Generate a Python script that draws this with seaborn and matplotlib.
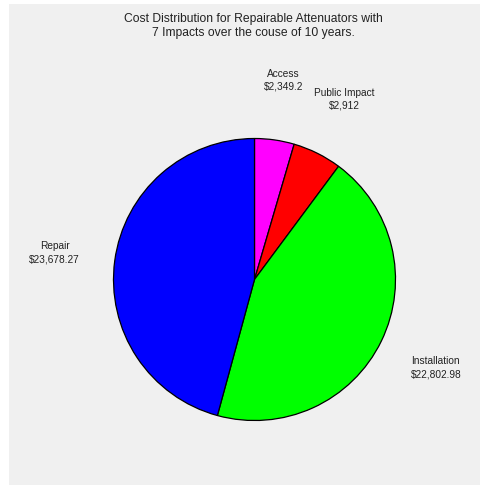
import matplotlib
matplotlib.use("Agg")
import matplotlib.pyplot as plt
from matplotlib.patches import Rectangle
import seaborn as sns

categories = ["Access", "Public Impact", "Installation", "Repair"]
costs = [2349.2, 2912, 22802.98, 23678.27]
cost_labels = ["$2,349.2", "$2,912", "$22,802.98", "$23,678.27"]
slice_colors = ["#ff00ff", "#ff0000", "#00ff00", "#0000ff"]
title_lines = ["Cost Distribution for Repairable Attenuators with",
               "7 Impacts over the couse of 10 years."]

sns.set_style("white")
plt.rcParams["font.family"] = ["Liberation Sans", "DejaVu Sans"]

W, H = 481, 486
fig = plt.figure(figsize=(W / 100, H / 100), dpi=100, facecolor="white")

# grey panel behind the chart
fig.patches.append(Rectangle((9 / W, 1 / H), 471 / W, 481 / H,
                             transform=fig.transFigure, facecolor="#f0f0f0",
                             edgecolor="none", zorder=-5))

R = 141
cx, cy = 254.5, H - 279.5
span = 3 * R
ax = fig.add_axes([(cx - span / 2) / W, (cy - span / 2) / H, span / W, span / H])
ax.set_facecolor("none")
ax.set_zorder(2)

labels = [f"{c}\n{v}" for c, v in zip(categories, cost_labels)]
wedges, texts = ax.pie(costs, labels=labels, colors=slice_colors,
                       startangle=90, counterclock=False, labeldistance=1.43,
                       wedgeprops=dict(edgecolor="black", linewidth=0.9),
                       textprops=dict(fontsize=7.3, color="#222222"))
for t in texts:
    t.set_ha("center")
    t.set_va("center")
    t.set_linespacing(1.35)
ax.set_xlim(-1.5, 1.5)
ax.set_ylim(-1.5, 1.5)
ax.axis("off")

fig.text(253 / W, 1 - 26 / H, "\n".join(title_lines), ha="center", va="center",
         fontsize=8.7, color="#222222", linespacing=1.3)

fig.savefig("out.png", dpi=100, facecolor="white")
